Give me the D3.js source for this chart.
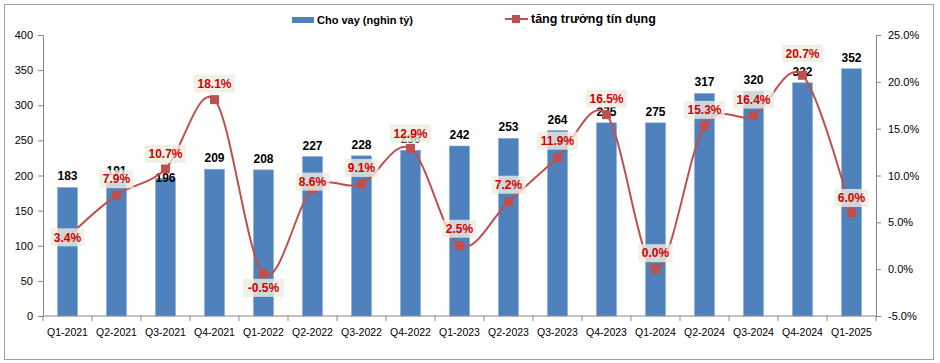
<!DOCTYPE html>
<html>
<head>
<meta charset="utf-8">
<script src="https://cdn.jsdelivr.net/npm/d3@7"></script>
<style>
  body { margin: 0; background: #fff; }
  text { font-family: "Liberation Sans", Arial, sans-serif; }
</style>
</head>
<body>
<div class="chart"></div>
<script>
// data
const quarters = ["Q1-2021","Q2-2021","Q3-2021","Q4-2021","Q1-2022","Q2-2022","Q3-2022","Q4-2022",
  "Q1-2023","Q2-2023","Q3-2023","Q4-2023","Q1-2024","Q2-2024","Q3-2024","Q4-2024","Q1-2025"];
const loans = [183,191,196,209,208,227,228,236,242,253,264,275,275,317,320,332,352];
const growth = [3.4,7.9,10.7,18.1,-0.5,8.6,9.1,12.9,2.5,7.2,11.9,16.5,0.0,15.3,16.4,20.7,6.0];
const leftTicks = [0,50,100,150,200,250,300,350,400];
const rightTicks = [-5,0,5,10,15,20,25];

// manual label nudges like in the excel chart (px, negative = up)
const growthLabelDy = [0,-16,-15,-16,14,-7,-16,-15,-17,-17,-17,-16,-16,-16,-16,-22,-15];
const loanLabelDy = [0,0,11,0,0,0,0,0,0,0,0,0,0,0,0,0,0];

function init(){
  const w = 940, h = 363;
  const left = 43, right = 876, top = 35, bottom = 316;

  const svg = d3.select(".chart").append("svg").attr("width", w).attr("height", h);

  // outer frame
  svg.append("rect").attr("x", 4.5).attr("y", 4.5).attr("width", 929).attr("height", 355)
    .attr("fill", "none").attr("stroke", "#a0a0a0");

  const x = d3.scaleBand().domain(quarters).range([left, right]).paddingInner(0.59).paddingOuter(0.295);
  const y = d3.scaleLinear().domain([0, 400]).range([bottom, top]);
  const y2 = d3.scaleLinear().domain([-5, 25]).range([bottom, top]);
  const cx = d => x(d) + x.bandwidth() / 2;

  // left axis
  const gl = svg.append("g").attr("transform", `translate(${left},0)`)
    .call(d3.axisLeft(y).tickValues(leftTicks).tickSize(5).tickPadding(5));
  // right axis
  const gr = svg.append("g").attr("transform", `translate(${right},0)`)
    .call(d3.axisRight(y2).tickValues(rightTicks).tickSize(5).tickPadding(7)
      .tickFormat(d => d.toFixed(1) + "%"));
  [gl, gr].forEach(g => {
    g.select(".domain").attr("stroke", "#868686");
    g.selectAll(".tick line").attr("stroke", "#868686");
    g.selectAll(".tick text").attr("fill", "#000").style("font-size", "11px")
      .style("font-family", "Liberation Sans, Arial, sans-serif");
  });

  // bars
  svg.selectAll(".bar").data(loans).join("rect")
    .attr("class", "bar")
    .attr("x", (d, i) => x(quarters[i]))
    .attr("y", d => y(d))
    .attr("width", x.bandwidth())
    .attr("height", d => bottom - y(d))
    .attr("fill", "#4f81bd")
    .attr("stroke", "#8eaedb").attr("stroke-width", 0.6);

  // x axis
  const step = x.step();
  const gx = svg.append("g").attr("transform", `translate(0,${bottom})`);
  gx.append("line").attr("x1", left).attr("x2", right).attr("stroke", "#868686");
  gx.selectAll(".xt").data(d3.range(quarters.length + 1)).join("line")
    .attr("x1", i => left + i * step).attr("x2", i => left + i * step)
    .attr("y1", 0).attr("y2", 5).attr("stroke", "#868686");
  gx.selectAll(".xl").data(quarters).join("text")
    .attr("x", d => cx(d)).attr("y", 20)
    .attr("text-anchor", "middle").style("font-size", "10.5px").attr("fill", "#000")
    .text(d => d);

  // bar value labels
  svg.selectAll(".vl").data(loans).join("text")
    .attr("x", (d, i) => cx(quarters[i]))
    .attr("y", (d, i) => y(d) - 7 + loanLabelDy[i])
    .attr("text-anchor", "middle")
    .style("font-size", "12px").style("font-weight", "bold").attr("fill", "#000")
    .text(d => d);

  // growth line
  const line = d3.line()
    .x((d, i) => cx(quarters[i]))
    .y(d => y2(d))
    .curve(d3.curveCatmullRom.alpha(0));
  svg.append("path").datum(growth)
    .attr("d", line).attr("fill", "none")
    .attr("stroke", "#c0504d").attr("stroke-width", 2);

  svg.selectAll(".mk").data(growth).join("rect")
    .attr("x", (d, i) => cx(quarters[i]) - 4.5)
    .attr("y", d => y2(d) - 4.5)
    .attr("width", 9).attr("height", 9)
    .attr("fill", "#c0504d");

  // growth labels with boxes
  const gl2 = svg.selectAll(".gl").data(growth).join("g")
    .attr("transform", (d, i) => `translate(${cx(quarters[i])},${y2(d) + growthLabelDy[i]})`);
  gl2.append("rect")
    .attr("x", d => -(d.toFixed(1).length * 7 + 13) / 2)
    .attr("y", -9)
    .attr("width", d => d.toFixed(1).length * 7 + 13)
    .attr("height", 18)
    .attr("fill", "#eeece1").attr("fill-opacity", 0.8);
  gl2.append("text")
    .attr("text-anchor", "middle").attr("dy", "0.36em")
    .style("font-size", "12px").style("font-weight", "bold").attr("fill", "#d00000")
    .text(d => d.toFixed(1) + "%");

  // legend
  const lg = svg.append("g");
  lg.append("rect").attr("x", 292).attr("y", 17).attr("width", 22).attr("height", 6).attr("fill", "#4f81bd");
  lg.append("text").attr("x", 317).attr("y", 24).style("font-size", "11px").style("font-weight", "bold")
    .text("Cho vay (nghìn tỷ)");
  lg.append("line").attr("x1", 505).attr("x2", 528).attr("y1", 19).attr("y2", 19)
    .attr("stroke", "#c0504d").attr("stroke-width", 2);
  lg.append("rect").attr("x", 512).attr("y", 15).attr("width", 8).attr("height", 8).attr("fill", "#c0504d");
  lg.append("text").attr("x", 531).attr("y", 23).style("font-size", "12.5px").style("font-weight", "bold")
    .text("tăng trưởng tín dụng");
}
window.onload = init;
</script>
</body>
</html>
